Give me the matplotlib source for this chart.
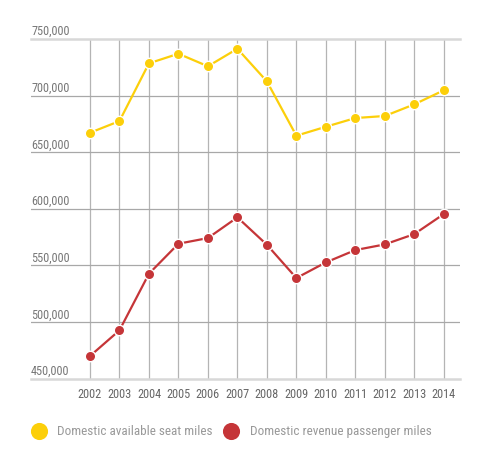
import matplotlib.pyplot as plt
from matplotlib.lines import Line2D

years = [2002, 2003, 2004, 2005, 2006, 2007, 2008, 2009, 2010, 2011, 2012, 2013, 2014]
seat_miles = [667200, 677500, 728500, 737000, 725900, 741400, 712600,
              664600, 672500, 680200, 682000, 692300, 704700]
passenger_miles = [470000, 492700, 542700, 569200, 574200, 592500, 568300,
                   538900, 552700, 563600, 568600, 577700, 595400]
y_ticks = [450000, 500000, 550000, 600000, 650000, 700000, 750000]
series_names = ['Domestic available seat miles', 'Domestic revenue passenger miles']

YELLOW = '#fccf0a'
RED = '#c53538'
FS = 8.8

plt.rcParams['font.family'] = ['Roboto Condensed', 'DejaVu Sans']

fig = plt.figure(figsize=(4.94, 4.63), dpi=100)
ax = fig.add_axes([31 / 494, 1 - 378.7 / 463, (460 - 31) / 494, (378.7 - 39) / 463])

ax.plot(years, seat_miles, color=YELLOW, lw=1.6, marker='o', ms=7.5,
        mfc=YELLOW, mec='white', mew=1, zorder=3)
ax.plot(years, passenger_miles, color=RED, lw=1.6, marker='o', ms=7.5,
        mfc=RED, mec='white', mew=1, zorder=3)

ax.set_xlim(2000, 2014.55)
ax.set_ylim(450000, 750000)
ax.set_xticks(years)
ax.set_xticklabels([str(y) for y in years], fontsize=FS, color='#666666')
ax.set_yticks(y_ticks)
ax.set_yticklabels([])
ax.tick_params(length=0, pad=7)
for s in ax.spines.values():
    s.set_visible(False)

ax.grid(True, axis='x', color='#b4b4b4', lw=0.9)
ax.grid(True, axis='y', color='#a8a8a8', lw=0.9)
ax.set_axisbelow(True)
glines = ax.get_ygridlines()
for i in (0, len(glines) - 1):
    glines[i].set_color('#d8d8d8')
    glines[i].set_linewidth(1.8)
    glines[i].set_clip_on(False)

for v in y_ticks:
    ax.text(2000, v + 3300, '{:,}'.format(v), fontsize=FS, color='#777777',
            ha='left', va='baseline')

handles = [
    Line2D([], [], ls='none', marker='o', ms=11.3, mfc=YELLOW, mec=YELLOW),
    Line2D([], [], ls='none', marker='o', ms=11.3, mfc=RED, mec=RED),
]
fig.legend(handles, series_names,
           loc='center left', bbox_to_anchor=(30.8 / 494, 1 - 431.7 / 463), ncol=2,
           frameon=False, fontsize=9.5, labelcolor='#999999', handletextpad=0.79,
           columnspacing=0.83, handlelength=1.19, borderpad=0, borderaxespad=0)

fig.savefig('out.png', dpi=100)
